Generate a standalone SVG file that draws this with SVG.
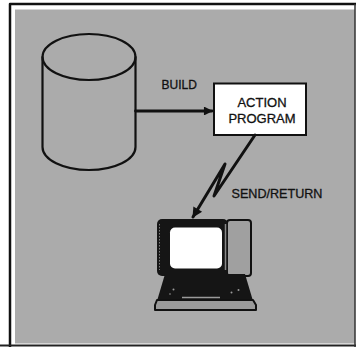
<svg xmlns="http://www.w3.org/2000/svg" width="356" height="347" viewBox="0 0 356 347">
  <defs>
    <style>
      .lbl { font-family: "Liberation Sans", Arial, sans-serif; fill: #111; stroke: #111; stroke-width: 0.3; }
      .ink { fill: none; stroke: #111; stroke-linecap: round; stroke-linejoin: round; }
    </style>
    <marker id="head" viewBox="0 0 10 10" refX="9" refY="5" markerWidth="4.4" markerHeight="3.2" orient="auto" markerUnits="strokeWidth">
      <path d="M0,0 L10,5 L0,10 Z" fill="#111"/>
    </marker>
    <marker id="bolt" viewBox="0 0 10 10" refX="9" refY="5" markerWidth="4.8" markerHeight="3.4" orient="auto" markerUnits="strokeWidth">
      <path d="M0,0 L10,5 L0,10 Z" fill="#111"/>
    </marker>
  </defs>

  <!-- page and frame -->
  <rect x="0" y="0" width="356" height="347" fill="#ffffff"/>
  <rect x="15" y="9.5" width="340" height="334" fill="#ababab"/>
  <path d="M10,347 L10,4 L356,4" class="ink" stroke-width="2.5"/>
  <line x1="0" y1="345.5" x2="356" y2="345.5" stroke="#222" stroke-width="2"/>
  <line x1="355" y1="4" x2="355" y2="347" stroke="#333" stroke-width="1.5"/>

  <!-- database cylinder -->
  <g id="database">
    <path d="M42.5,57 L42.5,147 A46.5,23 0 0 0 135.5,147 L135.5,57" class="ink" stroke-width="2.2"/>
    <ellipse cx="89" cy="57" rx="46.5" ry="23" class="ink" stroke-width="2.2"/>
  </g>

  <!-- action program box -->
  <g id="action-program">
    <rect x="214" y="83.5" width="92" height="51.5" fill="#ffffff" stroke="#111" stroke-width="2"/>
    <text class="lbl" x="262" y="106.5" font-size="13" text-anchor="middle">ACTION</text>
    <text class="lbl" x="262" y="122.7" font-size="13" text-anchor="middle">PROGRAM</text>
  </g>

  <!-- terminal -->
  <g id="terminal">
    <!-- side housing -->
    <rect x="227" y="220" width="24" height="56" rx="3" fill="#a0a0a0" stroke="#111" stroke-width="2"/>
    <!-- bezel -->
    <rect x="157" y="219" width="71" height="57" rx="5" fill="#151515"/>
    <line x1="225.5" y1="224" x2="225.5" y2="270" stroke="#8a8a8a" stroke-width="1.5"/>
    <line x1="159.5" y1="224" x2="159.5" y2="270" stroke="#7a7a7a" stroke-width="1" stroke-dasharray="1.5 1.5"/>
    <!-- screen -->
    <rect x="170" y="227.5" width="52" height="41" rx="5" fill="#ffffff"/>
    <!-- keyboard -->
    <path d="M165,274 L245,274 L253,301 L157,301 Z" fill="#151515"/>
    <path d="M157,300 L253,300 L256,305 L256,310 L155,310 L155,305 Z" fill="#9a9a9a" stroke="#111" stroke-width="2" stroke-linejoin="round"/>
    <line x1="182" y1="297.5" x2="220" y2="297.5" stroke="#9a9a9a" stroke-width="1.5"/>
    <g fill="#9a9a9a">
      <circle cx="173.5" cy="289.5" r="1"/>
      <circle cx="231.5" cy="292.5" r="1"/>
      <circle cx="238.5" cy="290" r="1"/>
      <circle cx="170" cy="294" r="0.8"/>
    </g>
  </g>

  <!-- connectors -->
  <g id="connectors">
    <line x1="135.5" y1="111" x2="212" y2="111" class="ink" stroke-width="2.8" marker-end="url(#head)"/>
    <polyline points="255,135 214,196 225,164 193,217" class="ink" stroke-width="3" stroke-linejoin="miter" marker-end="url(#bolt)"/>
  </g>

  <!-- connector labels -->
  <text class="lbl" x="161.5" y="89.3" font-size="12">BUILD</text>
  <text class="lbl" x="231.5" y="197.5" font-size="12.6">SEND/RETURN</text>
</svg>
